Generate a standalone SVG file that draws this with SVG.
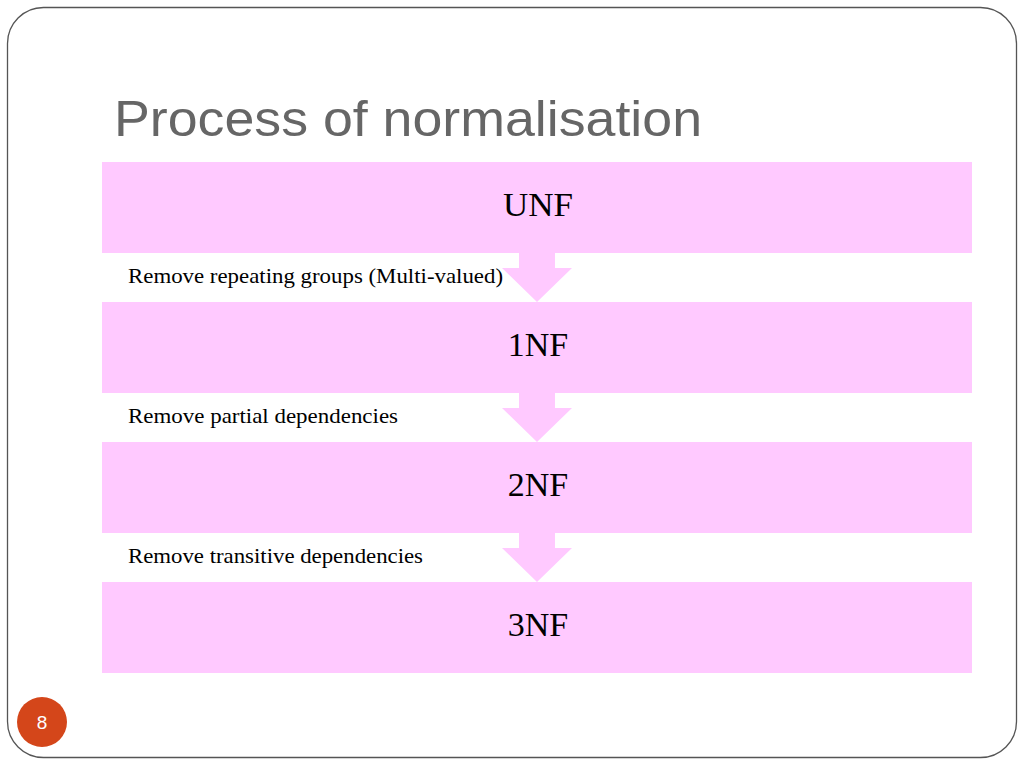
<svg xmlns="http://www.w3.org/2000/svg" width="1024" height="768" viewBox="0 0 1024 768">
<style>
.bar{fill:#FFC9FF}
.arrow{fill:#FFC9FF}
.nl{font-family:"Liberation Serif",serif;font-size:34px;fill:#000;text-anchor:middle}
.sl{font-family:"Liberation Serif",serif;font-size:21px;fill:#000}
</style>
<rect x="0" y="0" width="1024" height="768" fill="#fff"/>
<rect x="7.5" y="7.5" width="1009" height="750" rx="36" fill="none" stroke="#555" stroke-width="1.3"/>
<text x="114" y="136" font-family="Liberation Sans, sans-serif" font-size="50" fill="#666" textLength="588" lengthAdjust="spacingAndGlyphs">Process of normalisation</text>
<g id="connectors">
<path class="arrow" d="M519,253 H555 V268 H572 L537,302 L502,268 H519 Z"/>
<path class="arrow" d="M519,393 H555 V408 H572 L537,442 L502,408 H519 Z"/>
<path class="arrow" d="M519,533 H555 V548 H572 L537,582 L502,548 H519 Z"/>
</g>
<text class="sl" x="128" y="283" textLength="375" lengthAdjust="spacingAndGlyphs">Remove repeating groups (Multi-valued)</text>
<text class="sl" x="128" y="423" textLength="270" lengthAdjust="spacingAndGlyphs">Remove partial dependencies</text>
<text class="sl" x="128" y="563" textLength="295" lengthAdjust="spacingAndGlyphs">Remove transitive dependencies</text>
<g id="unf"><rect class="bar" x="102" y="162" width="870" height="91"/><text class="nl" x="538" y="216" textLength="70" lengthAdjust="spacingAndGlyphs">UNF</text></g>
<g id="nf1"><rect class="bar" x="102" y="302" width="870" height="91"/><text class="nl" x="538" y="356">1NF</text></g>
<g id="nf2"><rect class="bar" x="102" y="442" width="870" height="91"/><text class="nl" x="538" y="496">2NF</text></g>
<g id="nf3"><rect class="bar" x="102" y="582" width="870" height="91"/><text class="nl" x="538" y="636">3NF</text></g>
<g id="page"><circle cx="42" cy="722" r="25" fill="#D4461A"/><text x="42" y="729" font-family="Liberation Sans, sans-serif" font-size="19" fill="#fff" text-anchor="middle">8</text></g>
</svg>
